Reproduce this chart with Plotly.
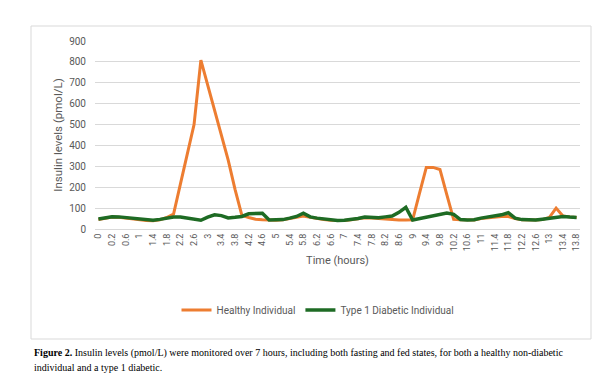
import plotly.graph_objects as go

times = ["0", "0.1"] + [f"{0.2 * k:.1f}".rstrip("0").rstrip(".") for k in range(1, 70)]

healthy = [45, 52, 57, 56, 52, 48, 44, 41, 40, 44, 55, 72, 215, 358, 500, 808, 690, 570, 450, 330,
           190, 65, 55, 47, 44, 42, 42, 44, 50, 56, 62, 56, 50, 46, 42, 40, 41, 44, 48, 54,
           53, 50, 48, 44, 43, 43, 44, 170, 295, 295, 285, 165, 46, 44, 42, 43, 50, 54, 58, 60,
           60, 50, 44, 42, 43, 45, 55, 100, 62, 58, 55]

diabetic = [48, 55, 59, 58, 54, 50, 46, 43, 42, 46, 52, 57, 57, 53, 48, 42, 57, 68, 64, 53,
            56, 60, 73, 75, 75, 43, 43, 45, 52, 60, 76, 58, 52, 47, 43, 41, 42, 45, 50, 57,
            56, 54, 58, 62, 80, 104, 43, 50, 58, 62, 70, 77, 70, 45, 43, 44, 52, 56, 62, 68,
            78, 52, 45, 42, 43, 47, 52, 57, 60, 57, 55]

tick_labels = times[0::2]
y_ticks = list(range(0, 1000, 100))

ORANGE = "#ED7D31"
GREEN = "#1E6B24"
GRAY = "#595959"
FONT = "Roboto"

OFF = 8  # page body margin
W, H = 616 - OFF, 384 - OFF
L, R, T, B = 95 - OFF, 580 - OFF, 41 - OFF, 229 - OFF
pw, ph = R - L, B - T


def px(x):
    return (x - OFF - L) / pw


def py(y):
    return (B - (y - OFF)) / ph


fig = go.Figure()
fig.add_trace(go.Scatter(x=times, y=healthy, mode="lines", name="Healthy Individual",
                         line=dict(color=ORANGE, width=3)))
fig.add_trace(go.Scatter(x=times, y=diabetic, mode="lines", name="Type 1 Diabetic Individual",
                         line=dict(color=GREEN, width=3.5)))

fig.update_layout(
    width=W, height=H,
    margin=dict(l=L, r=W - R, t=T, b=H - B, autoexpand=False),
    paper_bgcolor="white", plot_bgcolor="white",
    font=dict(family=FONT, color=GRAY, size=10),
    showlegend=True,
    legend=dict(orientation="h", x=px(318), xanchor="center", y=py(310), yanchor="middle",
                font=dict(size=10, color=GRAY, family=FONT), bgcolor="rgba(0,0,0,0)",
                itemwidth=30, tracegroupgap=0),
    xaxis=dict(type="category", categoryorder="array", categoryarray=times,
               tickmode="array", tickvals=tick_labels, ticktext=tick_labels,
               tickangle=-90, tickfont=dict(size=9, color=GRAY, family=FONT),
               showgrid=False, showline=True, linecolor="#d9d9d9", linewidth=1,
               ticks="", range=[-0.5, len(times) - 0.5], automargin=False,
               title=dict(text="Time (hours)", font=dict(size=11, color=GRAY, family=FONT), standoff=6)),
    yaxis=dict(range=[0, 900], tickvals=y_ticks, showgrid=True, gridcolor="#d9d9d9", gridwidth=1,
               zeroline=False, showline=False, ticks="", ticklabelstandoff=8,
               tickfont=dict(size=10, color=GRAY, family=FONT), automargin=False,
               title=dict(text="Insulin levels (pmol/L)", font=dict(size=11.5, color=GRAY, family=FONT), standoff=4)),
)

fig.add_shape(type="rect", xref="paper", yref="paper",
              x0=px(31), x1=px(591), y0=py(339), y1=py(26),
              line=dict(color="#d9d9d9", width=1), fillcolor="rgba(0,0,0,0)", layer="below")

fig.add_annotation(xref="paper", yref="paper", x=px(32), y=py(353), xanchor="left", yanchor="middle",
                   showarrow=False, align="left",
                   text="<b>Figure 2.</b> Insulin levels (pmol/L) were monitored over 7 hours, including both fasting and fed states, for both a healthy non-diabetic",
                   font=dict(family="Liberation Serif", size=10, color="black"))
fig.add_annotation(xref="paper", yref="paper", x=px(32), y=py(367), xanchor="left", yanchor="middle",
                   showarrow=False, align="left",
                   text="individual and a type 1 diabetic.",
                   font=dict(family="Liberation Serif", size=10, color="black"))

fig.write_html("out.html")
